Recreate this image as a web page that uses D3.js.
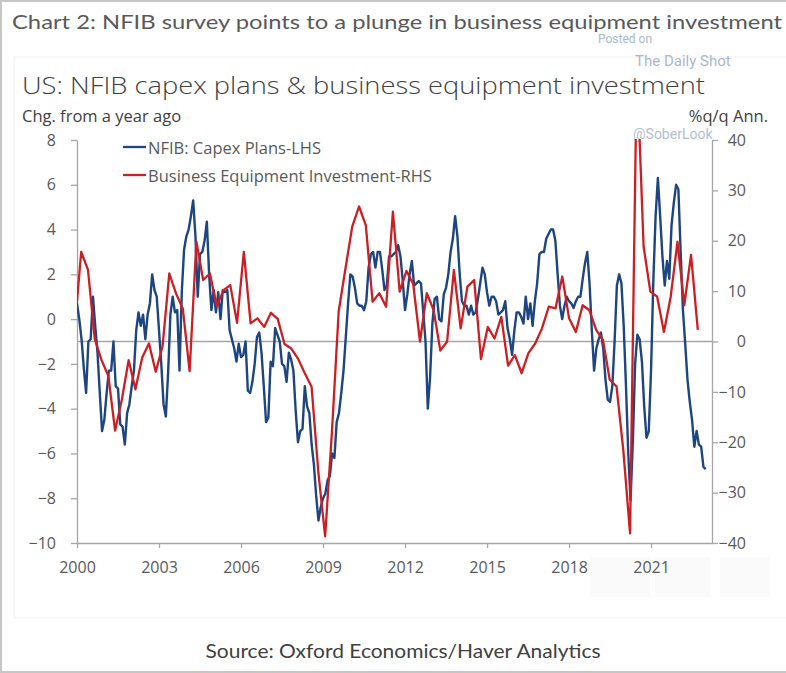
<!DOCTYPE html>
<html><head><meta charset="utf-8">
<script src="https://cdn.jsdelivr.net/npm/d3@7/dist/d3.min.js"></script>
<style>body{margin:0;background:#fff}svg{display:block}</style>
</head><body>
<svg id="c" width="786" height="673"></svg>
<script>
// ---------------- DATA ----------------
// NFIB capex plans, change from a year ago, monthly from Jan 2000 (LHS)
const nfibStartYear = 2000;
const nfibCapex = [
  0.7, 0.0, -0.9, -2.2, -3.3, -1.0, -0.9, 1.0, -0.3, -1.5, -3.3, -5.0,   // 2000
  -4.5, -3.3, -2.3, -2.3, -1.0, -3.0, -3.1, -4.7, -4.8, -5.6, -4.2, -3.8, // 2001
  -3.0, -2.3, -0.5, 0.3, -0.3, 0.2, -0.9, 0.2, 0.7, 2.0, 1.3, 1.0,       // 2002
  -0.5, -2.0, -3.8, -4.35, -2.4, 0.2, 1.0, 0.3, 0.4, -2.3, 1.2, 3.1,     // 2003
  3.7, 4.0, 4.6, 5.3, 3.7, 1.0, 2.9, 3.0, 3.5, 4.35, 2.0, 0.4,           // 2004
  1.3, 0.3, 1.2, 0.0, 1.3, 1.2, 1.3, -0.5, -0.9, -1.3, -1.9, -1.1,       // 2005
  -1.7, -1.6, -1.0, -3.2, -3.3, -2.8, -2.0, -0.8, -0.6, -1.5, -3.0, -4.6, // 2006
  -4.4, -1.9, -2.1, -0.4, -0.7, -1.0, -2.0, -2.1, -2.8, -1.5, -1.8, -2.3, // 2007
  -4.1, -5.5, -5.0, -4.9, -3.0, -3.9, -4.2, -5.6, -6.5, -7.9, -9.0, -8.4, // 2008
  -8.0, -7.8, -7.2, -7.0, -6.0, -6.2, -4.6, -4.2, -3.3, -2.3, -0.8, 0.7,  // 2009
  2.0, 1.9, 1.4, 0.7, 0.6, 0.6, 0.4, 0.8, 2.3, 2.9, 3.0, 2.3,            // 2010
  3.0, 3.0, 2.2, 1.3, 1.5, 2.8, 2.8, 2.9, 3.0, 3.3, 2.8, 1.7,            // 2011
  0.4, 1.1, 2.0, 2.6, 1.5, 1.6, 1.7, 1.6, 0.3, -1.0, -4.0, -2.6,         // 2012
  -0.2, 0.9, 1.0, 0.0, -0.1, 1.1, 1.4, 2.0, 3.0, 3.6, 4.6, 3.7,          // 2013
  2.0, 0.8, 0.6, 0.6, 0.2, 0.6, 0.2, 0.3, 0.9, 1.6, 2.3, 2.0,            // 2014
  1.2, 0.6, 1.0, 1.0, 0.8, 0.2, 0.3, 0.4, 0.8, -0.4, -0.9, -1.6,         // 2015
  -0.5, 0.3, 0.3, 0.1, -0.2, 1.0, 0.0, 0.7, -0.3, 0.8, 1.6, 2.9,         // 2016
  3.0, 3.0, 3.6, 3.8, 4.0, 4.0, 3.5, 2.0, 0.6, 0.0, 0.6, 1.0,            // 2017
  0.8, 0.7, 0.5, 0.8, 1.0, 1.0, 1.8, 2.5, 3.0, 1.6, -0.5, -2.3,          // 2018
  -1.3, -0.9, -0.6, -1.3, -2.7, -3.6, -3.7, -3.0, -1.0, 1.5, 2.0, 1.6,   // 2019
  -0.3, -3.0, -6.0, -8.1, -5.5, -2.0, -0.7, -0.9, -1.9, -3.9, -5.3, -5.0, // 2020
  -2.3, 1.7, 4.6, 6.3, 4.6, 2.8, 1.5, 2.6, 1.8, 4.2, 5.2, 6.0,           // 2021
  5.8, 3.0, 0.4, -1.1, -2.7, -3.7, -4.5, -5.7, -5.0, -5.6, -5.7, -6.6,   // 2022
  -6.7                                                                   // 2023
];

// Business equipment investment, %q/q annualised, quarterly 1999Q4 .. 2022Q4 (RHS)
const equipFirstQuarter = [1999, 4];
const equipInvest = [
  2.0,
  17.8, 14.2, 0.5, -3.7,     // 2000
  -6.8, -17.7, -11.5, -3.7,  // 2001
  -9.5, -3.2, -0.4, -6.0,    // 2002
  -1.0, 13.5, 9.5, 6.5,      // 2003
  -5.9, 19.8, 12.2, 13.5,    // 2004
  7.0, 10.2, 11.2, 3.7,      // 2005
  17.8, 3.6, 4.6, 2.9,       // 2006
  5.7, 4.5, -0.5, -1.4,      // 2007
  -3.4, -6.3, -9.0, -26.0,   // 2008
  -38.7, -18.0, 6.0, 14.5,   // 2009
  22.8, 26.8, 23.1, 7.9,     // 2010
  9.6, 6.9, 25.8, 9.9,       // 2011
  14.0, 11.4, 0.0, 9.6,      // 2012
  6.3, -1.8, 0.0, 14.2,      // 2013
  2.6, 10.9, 12.2, -3.5,     // 2014
  2.9, 0.6, 4.9, -4.8,       // 2015
  -2.7, -6.3, -2.3, -0.4,    // 2016
  2.6, 6.9, 6.6, 12.9,       // 2017
  4.6, 1.9, 7.2, 6.2,        // 2018
  2.3, 0.3, -7.6, -8.9,      // 2019
  -21.5, -38.1, 55.0, 18.8,  // 2020
  9.9, 8.9, 1.9, 8.9,        // 2021
  19.8, 7.2, 17.2, 2.3       // 2022
];

const xTickYears = [2000, 2003, 2006, 2009, 2012, 2015, 2018, 2021];
const leftTicks = [8, 6, 4, 2, 0, -2, -4, -6, -8, -10];
const rightTicks = [40, 30, 20, 10, 0, -10, -20, -30, -40];
const seriesNames = ["NFIB: Capex Plans-LHS", "Business Equipment Investment-RHS"];

// ---------------- CHART ----------------
const svg = d3.select("#c");
const W = 786, H = 673;
const plot = {left: 77, right: 712, top: 140, bottom: 543};
const blue = "#1d4581", red = "#cc1f24", axisCol = "#a6a6a6", txt = "#595959";
const uiFont = "'Open Sans', 'Noto Sans', sans-serif";
const calFont = "Lato, 'Open Sans', sans-serif";

// frame
svg.append("rect").attr("x", 1).attr("y", 1).attr("width", W + 2).attr("height", H - 2)
  .attr("fill", "#fff").attr("stroke", "#c6c6c6").attr("stroke-width", 2);
svg.append("rect").attr("x", 14).attr("y", 57).attr("width", W).attr("height", 561)
  .attr("fill", "none").attr("stroke", "#f1f1f1").attr("stroke-width", 1);

// scales
const x = d3.scaleLinear().domain([2000, 2023.23]).range([plot.left, plot.right]);
const yL = d3.scaleLinear().domain([-10, 8]).range([plot.bottom, plot.top]);
const yR = d3.scaleLinear().domain([-40, 40]).range([plot.bottom, plot.top]);
// quarterly series sits on its own (secondary) category axis spanning 2000Q1..2022Q4
const qIndex = d3.scaleLinear().domain([1, equipInvest.length - 1])
  .range([x(2000.154), x(2022.711)]);

// faint overlay boxes bottom right
[[590, 60], [655, 55], [720, 50]].forEach(([bx, bw]) => {
  svg.append("rect").attr("x", bx).attr("y", 557).attr("width", bw).attr("height", 40)
    .attr("fill", "#fafafa");
});

// title texts
svg.append("text").attr("x", 12).attr("y", 29).text("Chart 2: NFIB survey points to a plunge in business equipment investment")
  .attr("font-family", calFont).attr("font-size", 20).attr("fill", txt)
  .attr("textLength", 770).attr("lengthAdjust", "spacingAndGlyphs");
svg.append("text").attr("x", 22).attr("y", 94).text("US: NFIB capex plans & business equipment investment")
  .attr("font-family", uiFont).attr("font-weight", 300).attr("font-size", 23.5).attr("fill", "#404040")
  .attr("textLength", 683).attr("lengthAdjust", "spacingAndGlyphs");
svg.append("text").attr("x", 22).attr("y", 122).text("Chg. from a year ago")
  .attr("font-family", uiFont).attr("font-size", 16.5).attr("fill", "#404040");
svg.append("text").attr("x", 768).attr("y", 122).attr("text-anchor", "end").text("%q/q Ann.")
  .attr("font-family", uiFont).attr("font-size", 16.5).attr("fill", "#404040");

// watermark
const wm = "#a9b7cd";
svg.append("text").attr("x", 598).attr("y", 43).text("Posted on")
  .attr("font-family", "Roboto, sans-serif").attr("font-size", 12).attr("fill", wm);
svg.append("text").attr("x", 635).attr("y", 66).text("The Daily Shot")
  .attr("font-family", "Roboto, sans-serif").attr("font-size", 15).attr("fill", wm);
svg.append("text").attr("x", 633).attr("y", 139).text("@SoberLook")
  .attr("font-family", "Roboto, sans-serif").attr("font-size", 14).attr("fill", wm).attr("opacity", 0.9);

// zero line of RHS
svg.append("line").attr("x1", plot.left).attr("x2", plot.right)
  .attr("y1", yR(0)).attr("y2", yR(0)).attr("stroke", axisCol).attr("stroke-width", 1.3);

// axes
function styleAxis(g) {
  g.selectAll("path.domain").attr("stroke", axisCol).attr("stroke-width", 1.3);
  g.selectAll(".tick line").attr("stroke", axisCol).attr("stroke-width", 1.3);
  g.selectAll(".tick text").attr("fill", txt).attr("font-family", uiFont).attr("font-size", 16);
}
const gL = svg.append("g").attr("transform", `translate(${plot.left},0)`)
  .call(d3.axisLeft(yL).tickValues(leftTicks).tickSize(6).tickSizeOuter(0).tickPadding(15)
    .tickFormat(d3.format("d")));
styleAxis(gL);
const gR = svg.append("g").attr("transform", `translate(${plot.right},0)`)
  .call(d3.axisRight(yR).tickValues(rightTicks).tickSize(6).tickSizeOuter(0).tickPadding(28)
    .tickFormat(d3.format("d")));
styleAxis(gR);
gR.selectAll(".tick text").attr("text-anchor", "end").attr("x", 34);
const gB = svg.append("g").attr("transform", `translate(0,${plot.bottom})`)
  .call(d3.axisBottom(x).tickValues(xTickYears).tickSize(5).tickSizeOuter(0).tickPadding(14)
    .tickFormat(d3.format("d")));
styleAxis(gB);

// clip
svg.append("clipPath").attr("id", "clip").append("rect")
  .attr("x", plot.left).attr("y", plot.top - 1)
  .attr("width", plot.right - plot.left).attr("height", plot.bottom - plot.top + 1);

const nfibData = nfibCapex.map((v, i) => ({t: nfibStartYear + i / 12, v}));
const equipData = equipInvest.map((v, i) => ({i, v}));

svg.append("path").datum(nfibData).attr("clip-path", "url(#clip)")
  .attr("fill", "none").attr("stroke", blue).attr("stroke-width", 2.4).attr("stroke-linejoin", "round")
  .attr("d", d3.line().x(d => x(d.t)).y(d => yL(d.v)));
svg.append("path").datum(equipData).attr("clip-path", "url(#clip)")
  .attr("fill", "none").attr("stroke", red).attr("stroke-width", 2.3).attr("stroke-linejoin", "round")
  .attr("d", d3.line().x(d => qIndex(d.i)).y(d => yR(d.v)));

// legend
const legend = svg.append("g");
[[blue, 147, 154], [red, 175, 182]].forEach(([c, ly, ty], k) => {
  legend.append("line").attr("x1", 123).attr("x2", 146).attr("y1", ly).attr("y2", ly)
    .attr("stroke", c).attr("stroke-width", 2.3);
  legend.append("text").attr("x", 148).attr("y", ty).text(seriesNames[k])
    .attr("font-family", uiFont).attr("font-size", 16.5).attr("fill", txt);
});

// source
svg.append("text").attr("x", 403).attr("y", 658).attr("text-anchor", "middle")
  .text("Source: Oxford Economics/Haver Analytics")
  .attr("font-family", calFont).attr("font-size", 19).attr("fill", "#404040")
  .attr("textLength", 395).attr("lengthAdjust", "spacingAndGlyphs");
</script>
</body></html>
